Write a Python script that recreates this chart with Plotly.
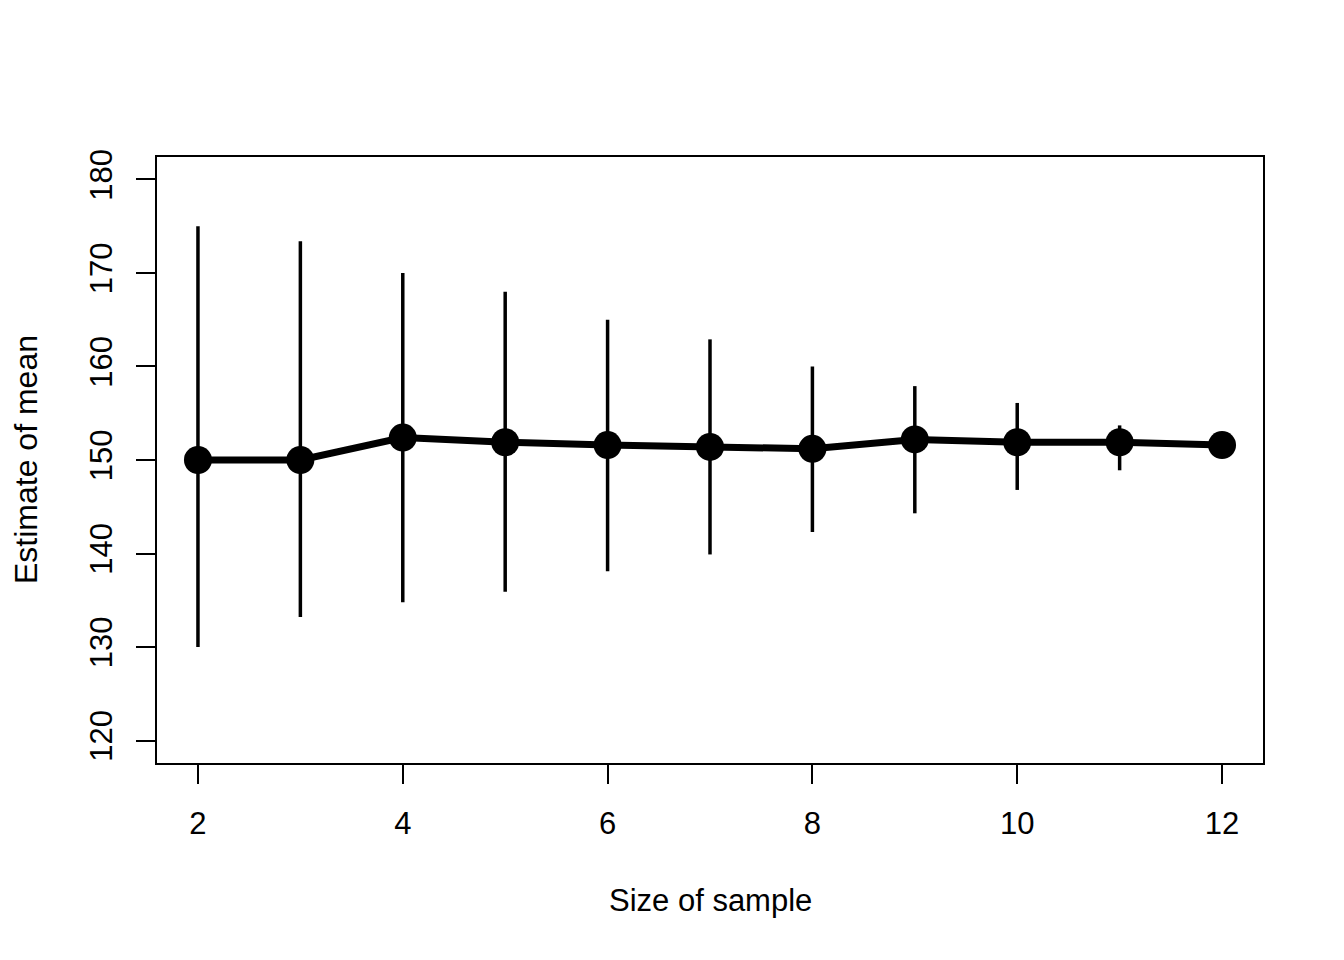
import plotly.graph_objects as go

sample_size = [2, 3, 4, 5, 6, 7, 8, 9, 10, 11, 12]
mean_est = [150.0, 150.0, 152.4, 151.9, 151.6, 151.4, 151.2, 152.2, 151.9, 151.9, 151.6]
upper = [175.0, 173.4, 170.0, 168.0, 165.0, 162.9, 160.0, 157.9, 156.1, 153.7, 151.6]
lower = [130.0, 133.2, 134.8, 135.9, 138.1, 139.9, 142.3, 144.3, 146.8, 148.9, 151.6]

x_ticks = [2, 4, 6, 8, 10, 12]
y_ticks = [120, 130, 140, 150, 160, 170, 180]

err_plus = [u - m for u, m in zip(upper, mean_est)]
err_minus = [m - l for m, l in zip(mean_est, lower)]

FONT = "Liberation Sans, Arial, sans-serif"

fig = go.Figure()
fig.add_trace(go.Scatter(
    x=sample_size, y=mean_est, mode="lines+markers",
    line=dict(color="black", width=7),
    marker=dict(color="black", size=28),
    error_y=dict(type="data", array=err_plus, arrayminus=err_minus,
                 color="black", thickness=3.5, width=0, symmetric=False),
    showlegend=False,
))

fig.update_layout(
    width=1344, height=960,
    margin=dict(l=149, r=89, t=149, b=205),
    paper_bgcolor="white", plot_bgcolor="white",
    font=dict(family=FONT, size=31, color="black"),
    annotations=[
        dict(text="Size of sample", xref="paper", yref="paper", x=0.5, y=0,
             yshift=-157, showarrow=False, font=dict(size=31)),
        dict(text="Estimate of mean", xref="paper", yref="paper", x=0, y=0.5,
             xshift=-150, textangle=-90, showarrow=False, font=dict(size=32),
             borderpad=0),
    ],
)
fig.update_xaxes(
    range=[1.6, 12.4], tickvals=x_ticks, ticktext=[str(v) for v in x_ticks],
    showgrid=False, zeroline=False, showline=True, mirror=True,
    linecolor="black", linewidth=2, ticks="outside", ticklen=19, tickwidth=2,
    tickcolor="black", ticklabelstandoff=13,
)
fig.update_yaxes(
    range=[117.6, 182.4], tickvals=y_ticks, ticktext=[str(v) for v in y_ticks],
    showgrid=False, zeroline=False, showline=True, mirror=True,
    linecolor="black", linewidth=2, ticks="outside", ticklen=19, tickwidth=2,
    tickcolor="black", tickangle=-90, ticklabelstandoff=12,
)

fig.write_html("out.html")
